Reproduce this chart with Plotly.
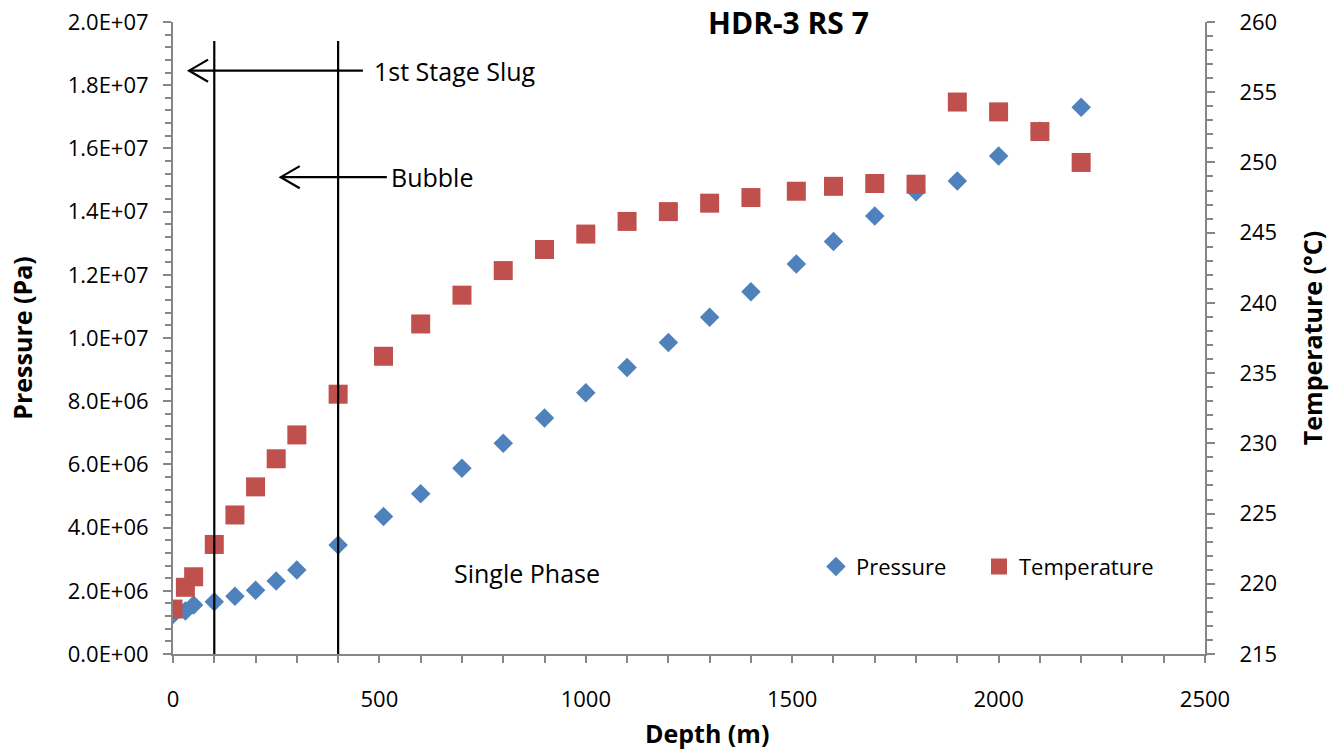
import plotly.graph_objects as go

# ---- data ----
depth = [0, 30, 50, 100, 150, 200, 250, 300, 400, 510, 600, 700, 800, 900, 1000,
         1100, 1200, 1300, 1400, 1510, 1600, 1700, 1800, 1900, 2000, 2100, 2200]
pressure = [1.25e6, 1.36e6, 1.55e6, 1.65e6, 1.83e6, 2.02e6, 2.31e6, 2.66e6, 3.45e6,
            4.35e6, 5.07e6, 5.88e6, 6.67e6, 7.47e6, 8.27e6, 9.07e6, 9.86e6, 10.66e6,
            11.46e6, 12.34e6, 13.05e6, 13.86e6, 14.63e6, 14.97e6, 15.76e6, 16.55e6, 17.3e6]
temperature = [218.2, 219.75, 220.5, 222.8, 224.9, 226.9, 228.9, 230.6, 233.5,
               236.2, 238.5, 240.55, 242.3, 243.8, 244.9, 245.8, 246.5, 247.1,
               247.5, 247.95, 248.3, 248.5, 248.45, 254.3, 253.6, 252.2, 250.0]

p_tickvals = [0, 2e6, 4e6, 6e6, 8e6, 1e7, 1.2e7, 1.4e7, 1.6e7, 1.8e7, 2e7]
p_ticktext = ["0.0E+00", "2.0E+06", "4.0E+06", "6.0E+06", "8.0E+06", "1.0E+07",
              "1.2E+07", "1.4E+07", "1.6E+07", "1.8E+07", "2.0E+07"]
x_tickvals = [0, 500, 1000, 1500, 2000, 2500]
t_tickvals = [215, 220, 225, 230, 235, 240, 245, 250, 255, 260]

# regime boundaries and annotations
boundaries = [100, 400]
boundary_top = 1.94e7
slug_arrow = dict(x0=460, x1=39, y=1.846e7, label="1st Stage Slug", tx=482)
bubble_arrow = dict(x0=518, x1=261, y=1.509e7, label="Bubble", tx=523)
single_phase = dict(x=857, y=2.55e6, label="Single Phase")

FONT = "Open Sans"
AX = "#868686"

fig = go.Figure()
fig.add_trace(go.Scatter(x=depth, y=pressure, mode="markers", name="Pressure",
                         legend="legend",
                         marker=dict(symbol="diamond", size=15, color="#4F81BD")))
fig.add_trace(go.Scatter(x=depth, y=temperature, mode="markers", name="Temperature",
                         yaxis="y2", legend="legend2",
                         marker=dict(symbol="square", size=19, color="#C0504D")))

shapes = []
for b in boundaries:
    shapes.append(dict(type="line", xref="x", yref="y", x0=b, x1=b, y0=0, y1=boundary_top,
                       line=dict(color="black", width=2.2), layer="above"))
for a in (slug_arrow, bubble_arrow):
    shapes.append(dict(type="line", xref="x", yref="y", x0=a["x0"], x1=a["x1"],
                       y0=a["y"], y1=a["y"], line=dict(color="black", width=2.2), layer="above"))
    hx = a["x1"] + 46
    dy = 0.35e6
    shapes.append(dict(type="path", xref="x", yref="y",
                       path=f"M {hx},{a['y'] + dy} L {a['x1']},{a['y']} L {hx},{a['y'] - dy}",
                       line=dict(color="black", width=2.2), layer="above"))

tickfont = dict(family=FONT, size=22, color="black")
titlefont = dict(family=FONT, size=25, color="black", weight="bold")
legfont = dict(family=FONT, size=22, color="black")

annotations = []
for a in (slug_arrow, bubble_arrow):
    annotations.append(dict(x=a["tx"], y=a["y"], xref="x", yref="y", text=a["label"],
                            showarrow=False, xanchor="left", yanchor="middle",
                            font=dict(family=FONT, size=25, color="black")))
annotations.append(dict(x=single_phase["x"], y=single_phase["y"], xref="x", yref="y",
                        text=single_phase["label"], showarrow=False,
                        font=dict(family=FONT, size=25, color="black")))
annotations.append(dict(x=0.596, y=1.0, xref="paper", yref="paper", text="HDR-3 RS 7",
                        showarrow=False, yanchor="middle",
                        font=dict(family=FONT, size=30, color="black", weight="bold")))
annotations.append(dict(x=0.517, y=-0.125, xref="paper", yref="paper", text="Depth (m)",
                        showarrow=False, xanchor="center", yanchor="middle",
                        font=titlefont))

fig.update_layout(
    width=1341, height=753,
    margin=dict(l=173, r=136, t=22, b=99, autoexpand=False),
    paper_bgcolor="white", plot_bgcolor="white",
    font=dict(family=FONT, color="black"),
    showlegend=True,
    legend=dict(x=0.623, xanchor="left", y=0.138, yanchor="middle", font=legfont,
                bgcolor="rgba(0,0,0,0)"),
    legend2=dict(x=0.781, xanchor="left", y=0.138, yanchor="middle", font=legfont,
                 bgcolor="rgba(0,0,0,0)"),
    xaxis=dict(range=[0, 2500], tickvals=x_tickvals, showgrid=False, zeroline=False,
               automargin=False,
               showline=True, linecolor=AX, linewidth=2, ticks="outside", ticklen=7,
               tickwidth=1.5, tickcolor=AX, tickfont=tickfont, ticklabelstandoff=18,
               minor=dict(dtick=100, ticks="outside", ticklen=7, tickwidth=1.5, tickcolor=AX)),
    yaxis=dict(range=[0, 2e7], tickvals=p_tickvals, ticktext=p_ticktext, showgrid=False,
               automargin=False, ticklabeloverflow="allow",
               zeroline=False, showline=True, linecolor=AX, linewidth=2, ticks="outside",
               ticklen=8, tickwidth=1.5, tickcolor=AX, tickfont=tickfont, ticklabelstandoff=10,
               minor=dict(dtick=4e5, ticks="outside", ticklen=6, tickwidth=1.5, tickcolor=AX),
               title=dict(text="Pressure (Pa)", font=titlefont, standoff=28)),
    yaxis2=dict(range=[215, 260], tickvals=t_tickvals, overlaying="y", side="right",
                automargin=False, ticklabeloverflow="allow",
                showgrid=False, zeroline=False, showline=True, linecolor=AX, linewidth=2,
                ticks="outside", ticklen=8, tickwidth=1.5, tickcolor=AX, tickfont=tickfont,
                ticklabelstandoff=20,
                minor=dict(dtick=1, ticks="outside", ticklen=6, tickwidth=1.5, tickcolor=AX),
                title=dict(text="Temperature (°C)", font=titlefont, standoff=28)),
    shapes=shapes, annotations=annotations,
)

fig.write_html("out.html", config={"displayModeBar": False},
               post_script="document.body.style.margin='0';")
